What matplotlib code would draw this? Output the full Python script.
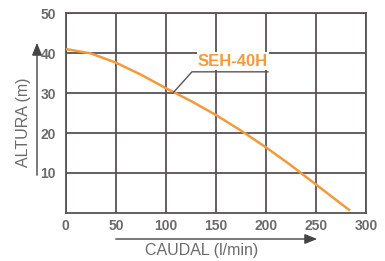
import numpy as np
import matplotlib
matplotlib.use("Agg")
import matplotlib.pyplot as plt

# ── Pump curve SEH-40H ──────────────────────────────────────────────────────
caudal = [0, 25, 50, 75, 100, 125, 150, 175, 200, 225, 250, 275, 284]
altura = [41, 39.9, 37.6, 34.6, 31.2, 28.0, 24.5, 20.6, 16.4, 11.9, 7.1, 2.3, 0.6]

x_ticks = [0, 50, 100, 150, 200, 250, 300]
y_ticks = [10, 20, 30, 40, 50]

ORANGE = '#F39A3C'
GRID   = '#5a5355'
TXT    = '#6b6b6b'

plt.rcParams['font.family'] = ['Liberation Sans', 'DejaVu Sans']

fig = plt.figure(figsize=(3.85, 2.61), dpi=100)
ax = fig.add_axes([0.171, 0.184, 0.780, 0.766])

ax.plot(caudal, altura, color=ORANGE, lw=1.8, zorder=3, solid_capstyle='butt')

ax.set_xlim(0, 300)
ax.set_ylim(0, 50)
ax.set_xticks(x_ticks)
ax.set_yticks(y_ticks)
ax.grid(True, color=GRID, lw=1.3)
for s in ax.spines.values():
    s.set_color(GRID)
    s.set_linewidth(1.3)
ax.tick_params(length=0, labelsize=10, labelcolor=TXT)
ax.tick_params(axis='y', pad=7)
ax.tick_params(axis='x', pad=4)
for lab in ax.get_xticklabels() + ax.get_yticklabels():
    lab.set_fontweight('bold')

# curve label with leader line
ax.plot([107, 126, 202], [30, 35.3, 35.3], color=GRID, lw=1.0, zorder=4)
ax.text(167, 38.0, 'SEH-40H', color=ORANGE, fontsize=12, fontweight='bold',
        ha='center', va='center', zorder=5,
        bbox=dict(facecolor='white', edgecolor='none', pad=1.0))

# axis titles with arrows (figure coords)
fig.text(24 / 385, 1 - 122 / 261, 'ALTURA (m)', rotation=90, ha='center',
         va='center', fontsize=11.5, color=TXT)
fig.add_artist(matplotlib.patches.FancyArrowPatch(
    (37 / 385, 1 - 178 / 261), (37 / 385, 1 - 40 / 261),
    transform=fig.transFigure, arrowstyle='-|>,head_length=5,head_width=2',
    color='#444444', lw=1.0, mutation_scale=1.5))

fig.text(202 / 385, 1 - 250 / 261, 'CAUDAL (l/min)', ha='center',
         va='center', fontsize=11.5, color=TXT)
fig.add_artist(matplotlib.patches.FancyArrowPatch(
    (113 / 385, 1 - 239 / 261), (320 / 385, 1 - 239 / 261),
    transform=fig.transFigure, arrowstyle='-|>,head_length=5,head_width=2',
    color='#444444', lw=1.0, mutation_scale=1.5))

fig.savefig('out.png', dpi=100)
